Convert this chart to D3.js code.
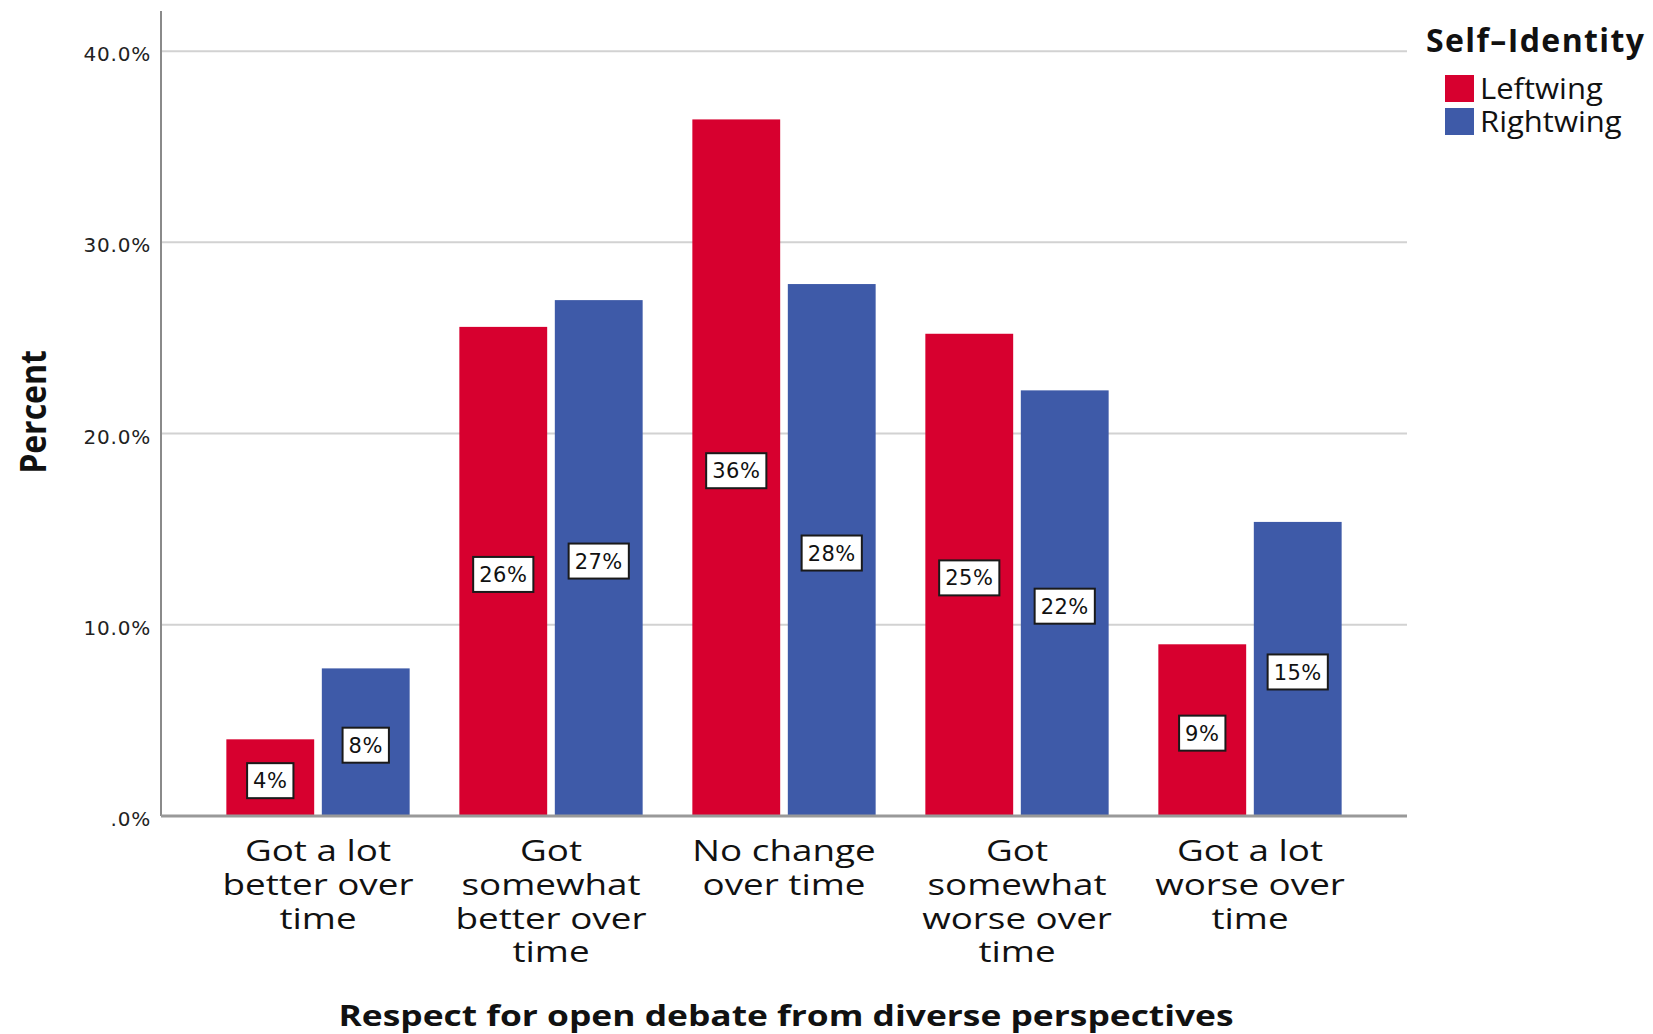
<!DOCTYPE html>
<html>
<head>
<meta charset="utf-8">
<script src="https://cdn.jsdelivr.net/npm/d3@7"></script>
<style>
  html, body { margin: 0; padding: 0; background: #fff; }
  svg { display: block; }
</style>
</head>
<body>
<svg id="chart" width="1653" height="1034"></svg>
<script>
// Respect for open debate, by self-identity (percent of each group)
const categories = [
  "Got a lot better over time",
  "Got somewhat better over time",
  "No change over time",
  "Got somewhat worse over time",
  "Got a lot worse over time"
];
const categoryLines = [
  ["Got a lot", "better over", "time"],
  ["Got", "somewhat", "better over", "time"],
  ["No change", "over time"],
  ["Got", "somewhat", "worse over", "time"],
  ["Got a lot", "worse over", "time"]
];
const seriesNames = ["Leftwing", "Rightwing"];
const leftwing  = [4.01, 25.58, 36.43, 25.22, 8.98];
const rightwing = [7.72, 26.98, 27.82, 22.26, 15.38];
const yTicks = [0, 10, 20, 30, 40];
const yTickLabels = [".0%", "10.0%", "20.0%", "30.0%", "40.0%"];
const seriesColors = ["#D7002F", "#3E5AA8"];

const svg = d3.select("#chart");
const plot = { left: 161, right: 1407, top: 11, bottom: 816 };

const y = d3.scaleLinear().domain([0, 42.1]).range([plot.bottom, plot.top]);
const x0 = d3.scaleBand().domain(categories).range([plot.left, plot.right])
  .paddingInner(0.2133).paddingOuter(0.2805);
const x1 = d3.scaleBand().domain(seriesNames).range([0, x0.bandwidth()])
  .paddingInner(0.08);
const color = d3.scaleOrdinal().domain(seriesNames).range(seriesColors);

// gridlines
svg.append("g").selectAll("line").data(yTicks.filter(d => d > 0)).join("line")
  .attr("x1", plot.left).attr("x2", plot.right)
  .attr("y1", d => y(d)).attr("y2", d => y(d))
  .attr("stroke", "#D2D2D2").attr("stroke-width", 2);

// y axis (labels only, no tick marks)
const yAxis = d3.axisLeft(y).tickValues(yTicks)
  .tickFormat((d, i) => yTickLabels[i]).tickSize(0).tickPadding(10);
const gy = svg.append("g").attr("transform", `translate(${plot.left},0)`).call(yAxis);
gy.select(".domain").remove();
gy.selectAll("text")
  .attr("font-family", "DejaVu Sans").attr("font-size", 20)
  .attr("letter-spacing", 0.8).attr("fill", "#222").attr("dy", "0.48em");

// bars
const rows = categories.map((c, i) => ({ cat: c, values: [leftwing[i], rightwing[i]] }));
const groups = svg.append("g").selectAll("g").data(rows).join("g")
  .attr("transform", d => `translate(${x0(d.cat)},0)`);

const bars = groups.selectAll("g.bar")
  .data(d => d.values.map((v, j) => ({ series: seriesNames[j], value: v })))
  .join("g").attr("class", "bar");

bars.append("rect")
  .attr("x", d => x1(d.series))
  .attr("width", x1.bandwidth())
  .attr("y", d => y(d.value))
  .attr("height", d => y(0) - y(d.value))
  .attr("fill", d => color(d.series));

// value labels in boxes at mid-height of each bar
bars.each(function(d) {
  const g = d3.select(this);
  const cx = x1(d.series) + x1.bandwidth() / 2;
  const cy = y(d.value / 2) + 3;
  const t = g.append("text")
    .attr("x", cx).attr("y", cy)
    .attr("text-anchor", "middle").attr("dy", "0.36em")
    .attr("font-family", "DejaVu Sans").attr("font-size", 21)
    .attr("letter-spacing", 0.5)
    .attr("fill", "#111")
    .text(Math.round(d.value) + "%");
  const w = t.node().getComputedTextLength() + 12;
  const h = 35;
  g.insert("rect", "text")
    .attr("x", cx - w / 2).attr("y", cy - h / 2)
    .attr("width", w).attr("height", h)
    .attr("fill", "#fff").attr("stroke", "#1a1a1a").attr("stroke-width", 2);
});

// axis lines
svg.append("line")
  .attr("x1", plot.left).attr("x2", plot.left)
  .attr("y1", plot.top).attr("y2", plot.bottom)
  .attr("stroke", "#8a8a8a").attr("stroke-width", 2);
svg.append("line")
  .attr("x1", plot.left).attr("x2", plot.right)
  .attr("y1", y(0)).attr("y2", y(0))
  .attr("stroke", "#999").attr("stroke-width", 3);

// category labels (wide lettering)
const catG = svg.append("g").selectAll("text").data(categories).join("text")
  .attr("transform", c => `translate(${x0(c) + x0.bandwidth() / 2},0) scale(1.27,1)`)
  .attr("text-anchor", "middle")
  .attr("font-family", "Open Sans").attr("font-size", 29)
  .attr("fill", "#111");
catG.each(function(c, i) {
  d3.select(this).selectAll("tspan").data(categoryLines[i]).join("tspan")
    .attr("x", 0)
    .attr("y", (l, k) => 861 + k * 33.8)
    .text(l => l);
});

// axis titles
svg.append("text")
  .attr("transform", `translate(${(plot.left + plot.right) / 2 + 2},1026) scale(1.22,1)`)
  .attr("text-anchor", "middle")
  .attr("font-family", "Open Sans").attr("font-weight", "bold").attr("font-size", 29)
  .attr("fill", "#111")
  .text("Respect for open debate from diverse perspectives");

svg.append("text")
  .attr("transform", `translate(46,412) rotate(-90) scale(1,1.13)`)
  .attr("text-anchor", "middle")
  .attr("font-family", "Open Sans").attr("font-weight", "bold").attr("font-size", 32)
  .attr("fill", "#111")
  .text("Percent");

// legend
const legend = svg.append("g");
legend.append("text")
  .attr("x", 1426).attr("y", 52)
  .attr("font-family", "Open Sans").attr("font-weight", "bold").attr("font-size", 32)
  .attr("letter-spacing", 1.4)
  .attr("fill", "#111")
  .text("Self\u2013Identity");
const items = legend.selectAll("g.item").data(seriesNames).join("g")
  .attr("class", "item")
  .attr("transform", (d, i) => `translate(1445,${75 + i * 33})`);
items.append("rect").attr("width", 29).attr("height", 27)
  .attr("fill", d => color(d));
items.append("text")
  .attr("transform", "translate(35,24) scale(1.07,1)")
  .attr("font-family", "Open Sans").attr("font-size", 29)
  .attr("fill", "#111")
  .text(d => d);
</script>
</body>
</html>
